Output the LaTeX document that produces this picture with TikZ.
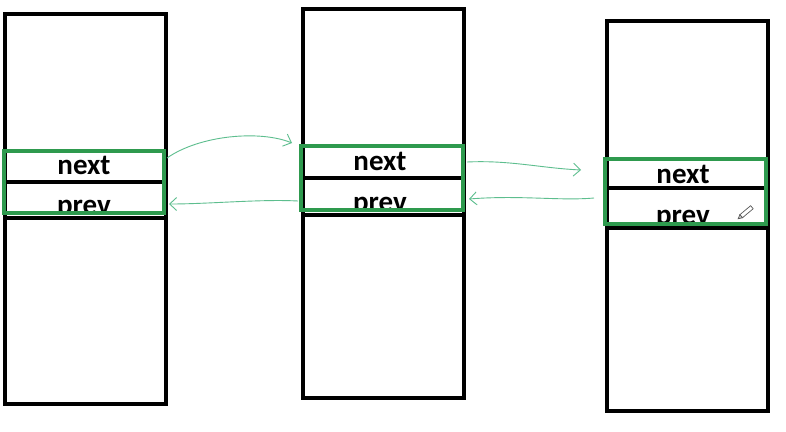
\documentclass[tikz,border=0pt]{standalone}
\usepackage{fontspec}
\setmainfont{Carlito}
\usetikzlibrary{arrows.meta}
\definecolor{frameg}{HTML}{2E9A4E}
\definecolor{arrowg}{HTML}{5DBE8E}
\tikzset{
  blk/.style={draw=black, line width=3.6pt},
  gframe/.style={draw=frameg, line width=3.6pt},
  lbl/.style={font=\bfseries\fontsize{29}{30}\selectfont, anchor=base, inner sep=0pt},
  link/.style={draw=arrowg, line width=0.9pt, -{Straight Barb[length=7pt,width=13pt]}},
}
\begin{document}
\begin{tikzpicture}[x=1pt,y=-1pt]
\fill[white] (0,0) rectangle (786,431);
\useasboundingbox (0,0) rectangle (786,431);
% box 1
\draw[blk] (5,14) rectangle (166,404);
\draw[blk] (5,182) -- (166,182);
\draw[blk] (5,218) -- (166,218);
\node[lbl] (n1) at (84,174) {next};
\begin{scope}\clip (5,184) rectangle (166,212);
\node[lbl] (p1) at (84,214) {prev};
\end{scope}
\node[gframe, minimum width=160pt, minimum height=62pt, inner sep=0pt] (g1) at (84,182) {};
% box 2
\draw[blk] (303,9) rectangle (464,398);
\draw[blk] (303,178) -- (464,178);
\draw[blk] (303,215) -- (464,215);
\node[lbl] (n2) at (380,170) {next};
\begin{scope}\clip (303,180) rectangle (464,209);
\node[lbl] (p2) at (380,211) {prev};
\end{scope}
\node[gframe, minimum width=162pt, minimum height=64pt, inner sep=0pt] (g2) at (382,178) {};
% box 3
\draw[blk] (607,21) rectangle (768,411);
\draw[blk] (607,188) -- (768,188);
\draw[blk] (607,228) -- (768,228);
\node[lbl] (n3) at (683,183) {next};
\begin{scope}\clip (607,190) rectangle (768,223);
\node[lbl] (p3) at (683,224) {prev};
\end{scope}
\node[gframe, minimum width=161pt, minimum height=65pt, inner sep=0pt] (g3) at (685.5,191.5) {};
% pencil cursor
\begin{scope}[shift={(745,213)}, rotate=-50]
\draw[gray!70!black, line width=0.7pt, fill=white] (-2,-9) rectangle (2,5);
\draw[gray!70!black, line width=0.7pt, fill=gray!40] (-2,5) -- (0,9) -- (2,5) -- cycle;
\end{scope}
% connectors
\coordinate (a1s) at (167,158);
\coordinate (a1e) at (292,143);
\coordinate (a2s) at (298,201);
\coordinate (a2e) at (169,204);
\coordinate (a3s) at (467,162);
\coordinate (a3e) at (581,170);
\coordinate (a4s) at (594,198);
\coordinate (a4e) at (469,199);
\draw[link] (a1s) .. controls (200,135) and (260,130) .. (a1e);
\draw[link] (a2s) .. controls (260,199) and (210,204) .. (a2e);
\draw[link] (a3s) .. controls (510,160) and (540,168) .. (a3e);
\draw[link] (a4s) .. controls (560,201) and (520,195) .. (a4e);
\end{tikzpicture}
\end{document}
